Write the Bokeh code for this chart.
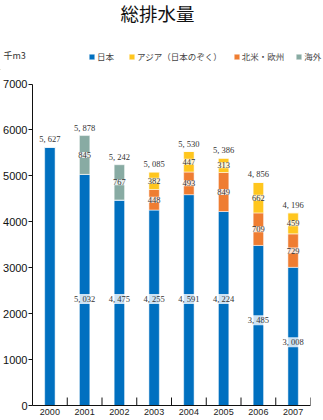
from bokeh.plotting import figure
from bokeh.layouts import column
from bokeh.models import (ColumnDataSource, FactorRange, Range1d, FixedTicker,
                          LabelSet, Label, Legend, LegendItem)
from bokeh.embed import file_html
from bokeh.resources import INLINE

# ---- data ----
years = ["2000", "2001", "2002", "2003", "2004", "2005", "2006", "2007"]
japan = [5627, 5032, 4475, 4255, 4591, 4224, 3485, 3008]
na_eu = [0, 0, 0, 448, 493, 849, 709, 729]
asia = [0, 0, 0, 382, 447, 313, 662, 459]
overseas = [0, 845, 767, 0, 0, 0, 0, 0]
totals = [5627, 5878, 5242, 5085, 5530, 5386, 4856, 4196]
series_names = ["日本", "アジア（日本のぞく）", "北米・欧州", "海外"]
y_ticks = [0, 1000, 2000, 3000, 4000, 5000, 6000, 7000]

# ---- styles ----
C_JP = "#0070C0"
C_ASIA = "#FFC61E"
C_NAEU = "#EF7D32"
C_OVS = "#88ABA3"
W = 323
HEAD_H = 70
MAIN_H = 350
LEFT, RIGHT, BOTTOM = 30, 13, 15
FRAME_H = MAIN_H - BOTTOM
Y_TOP_PX = 83.5 - HEAD_H          # pixel row of 7000 inside main figure
px_per_unit = (FRAME_H - Y_TOP_PX) / 7000.0
y_end = FRAME_H / px_per_unit
JFONT = "Noto Sans CJK JP"
NFONT = "Liberation Sans"


def fmt(v):
    return f"{v:,}".replace(",", ", ")


# ================= header (title, unit, legend) =================
head = figure(width=W, height=HEAD_H, x_range=Range1d(0, W), y_range=Range1d(0, HEAD_H),
              x_axis_type=None, y_axis_type=None, output_backend="svg",
              toolbar_location=None, min_border=0)
head.frame_align = False
head.outline_line_color = None
head.xgrid.visible = False
head.ygrid.visible = False

head.add_layout(Label(x=157, y=HEAD_H - 12.5, text="総排水量", text_align="center",
                      text_baseline="middle", text_font=JFONT, text_font_size="18.5px",
                      text_color="#111111"))
head.add_layout(Label(x=3, y=HEAD_H - 55, text="千m3", text_align="left",
                      text_baseline="middle", text_font=JFONT, text_font_size="9px",
                      text_color="#333333"))

# legend swatches: renderers whose single bar lies outside the visible range
dummies = [head.vbar(x=[-1000], top=[1], width=1, color=c, line_color="white", line_alpha=0.5)
           for c in (C_JP, C_ASIA, C_NAEU, C_OVS)]
legend = Legend(items=[LegendItem(label=n, renderers=[r]) for n, r in zip(series_names, dummies)],
                orientation="horizontal", location=(88, HEAD_H - 62),
                glyph_width=7, glyph_height=7, label_standoff=2, spacing=11,
                padding=0, margin=0, border_line_color=None, background_fill_alpha=0,
                label_text_font=JFONT, label_text_font_size="8.5px",
                label_text_color="#444444", label_height=10)
head.add_layout(legend, "center")

# ================= main chart =================
src = ColumnDataSource(dict(year=years, jp=japan, naeu=na_eu, asia=asia, ovs=overseas))

p = figure(width=W, height=MAIN_H, x_range=FactorRange(*years, range_padding=0, factor_padding=0),
           y_range=Range1d(0, y_end), output_backend="svg", toolbar_location=None,
           min_border_left=LEFT, min_border_right=RIGHT, min_border_top=0,
           min_border_bottom=BOTTOM)
p.frame_align = False
p.outline_line_color = None
p.xgrid.visible = False
p.ygrid.visible = False

rs = p.vbar_stack(["jp", "naeu", "asia", "ovs"], x="year", width=0.3, source=src,
                  color=[C_JP, C_NAEU, C_ASIA, C_OVS], line_color="white", line_alpha=0.5,
                  line_width=1)

ya = p.yaxis[0]
ya.ticker = FixedTicker(ticks=y_ticks)
ya.bounds = (0, 7000)
ya.major_tick_in = 0
ya.major_tick_out = 4
ya.minor_tick_line_color = None
ya.major_label_standoff = 1
ya.major_label_text_font = NFONT
ya.major_label_text_font_size = "11px"
ya.major_label_text_color = "#111111"
ya.axis_line_color = "#111111"
ya.major_tick_line_color = "#111111"

xa = p.xaxis[0]
xa.major_tick_line_color = None
xa.major_tick_out = 0
xa.major_tick_in = 0
xa.major_label_standoff = 3
xa.major_label_text_font = NFONT
xa.major_label_text_font_size = "9px"
xa.major_label_text_color = "#222222"
xa.axis_line_color = "#111111"

# category boundary ticks (pointing up from the axis)
bnd = [i + 1 for i in range(len(years))]
tick_len = 8 / px_per_unit
p.segment(x0=bnd, y0=[0] * len(bnd), x1=bnd, y1=[tick_len] * len(bnd),
          line_color="#111111", line_width=1)

# total labels above bars
tot_src = ColumnDataSource(dict(x=years, y=totals, t=[fmt(v) for v in totals]))
p.add_layout(LabelSet(x="x", y="y", text="t", source=tot_src, y_offset=3,
                      text_align="center", text_baseline="bottom",
                      text_font=NFONT, text_font_size="8.5px", text_color="#333333"))

# segment labels
lx, ly, lt = [], [], []
for i, yr in enumerate(years):
    segs = [japan[i], na_eu[i], asia[i], overseas[i]]
    if sum(1 for s in segs if s > 0) < 2:
        continue
    base = 0
    for k, s in enumerate(segs):
        if s > 0:
            if k == 0:
                ypos = min(2320, s - 1630)
            else:
                ypos = base + s / 2
            lx.append(yr)
            ly.append(ypos)
            lt.append(fmt(s))
        base += s
seg_src = ColumnDataSource(dict(x=lx, y=ly, t=lt))
p.add_layout(LabelSet(x="x", y="y", text="t", source=seg_src,
                      text_align="center", text_baseline="middle",
                      text_font=NFONT, text_font_size="8.5px", text_color="#333333",
                      background_fill_color="white", background_fill_alpha=0.8))

layout = column(head, p, spacing=0)
open("out.html", "w").write(file_html(layout, INLINE))
